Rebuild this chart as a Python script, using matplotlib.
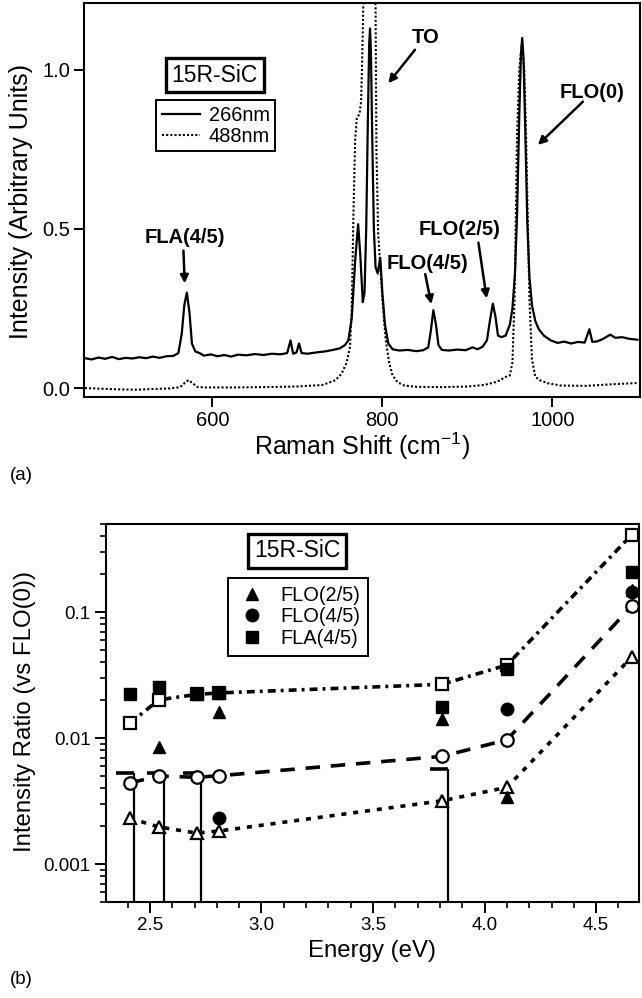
import numpy as np
import matplotlib.pyplot as plt
from matplotlib.lines import Line2D
from matplotlib.ticker import FixedLocator, NullFormatter

plt.rcParams['font.family'] = ['Liberation Sans', 'DejaVu Sans']
plt.rcParams['mathtext.default'] = 'regular'

# ---- (a) Raman spectra of 15R-SiC ----
shift_266 = [450, 458, 466, 474, 482, 490, 498, 506, 514, 522, 530, 538, 546, 554,
             560, 564, 567, 570, 573, 576, 580, 585, 590, 598, 606, 614, 622, 630,
             640, 650, 660, 670, 680, 688, 692, 695, 699, 702, 705, 712, 722, 732,
             742, 750, 756, 760, 764, 768, 771.5, 774, 777, 779, 781, 783, 784.5,
             785.5, 786.5, 788, 790, 792, 794.5, 797.5, 800, 803, 807, 812, 820, 830,
             840, 848, 854, 857, 860, 863, 866, 870, 878, 888, 898, 906, 912, 918,
             923, 927, 930, 933, 936, 940, 945, 950, 953, 956, 958.5, 961, 963,
             964.5, 966, 968, 970.5, 973, 976, 980, 984, 990, 998, 1006, 1014, 1022,
             1030, 1038, 1043.5, 1047, 1053, 1060, 1068, 1074, 1082, 1090, 1100]
int_266 = [0.094, 0.090, 0.096, 0.092, 0.098, 0.091, 0.095, 0.093, 0.097, 0.094, 0.099,
           0.095, 0.100, 0.101, 0.110, 0.170, 0.260, 0.300, 0.240, 0.140, 0.115, 0.110,
           0.102, 0.106, 0.100, 0.104, 0.099, 0.105, 0.103, 0.107, 0.104, 0.108, 0.106,
           0.110, 0.150, 0.108, 0.112, 0.140, 0.110, 0.108, 0.112, 0.115, 0.120, 0.125,
           0.135, 0.150, 0.220, 0.400, 0.515, 0.420, 0.270, 0.300, 0.500, 0.850, 1.080,
           1.130, 1.060, 0.800, 0.500, 0.380, 0.360, 0.410, 0.300, 0.200, 0.140, 0.122,
           0.118, 0.120, 0.116, 0.119, 0.128, 0.180, 0.245, 0.200, 0.135, 0.120, 0.118,
           0.121, 0.119, 0.128, 0.122, 0.130, 0.150, 0.220, 0.265, 0.225, 0.165, 0.160,
           0.165, 0.200, 0.250, 0.360, 0.550, 0.850, 1.050, 1.100, 1.040, 0.820, 0.520,
           0.350, 0.260, 0.210, 0.185, 0.165, 0.150, 0.142, 0.146, 0.140, 0.145, 0.143,
           0.185, 0.145, 0.147, 0.155, 0.168, 0.158, 0.160, 0.155, 0.152]

shift_488 = [450, 470, 490, 510, 530, 550, 562, 567, 572, 577, 582, 590, 620, 660, 700,
             730, 745, 752, 758, 762, 764, 766, 768, 770, 773, 775, 776, 778, 781, 784,
             787, 790, 792, 793, 795, 800, 804, 808, 812, 818, 826, 840, 870, 900, 920,
             935, 945, 950, 953, 955.5, 958.5, 961, 964, 967, 969, 973, 976, 980, 985,
             995, 1010, 1040, 1070, 1100]
int_488 = [0.000, -0.002, -0.004, -0.005, -0.003, -0.001, 0.003, 0.015, 0.025, 0.015,
           0.004, 0.002, 0.002, 0.003, 0.005, 0.010, 0.025, 0.045, 0.080, 0.130, 0.250,
           0.550, 0.780, 0.850, 0.860, 0.900, 1.000, 1.250, 1.450, 1.600, 1.600, 1.500,
           1.200, 0.750, 0.490, 0.280, 0.150, 0.080, 0.040, 0.018, 0.008, 0.004, 0.003,
           0.005, 0.010, 0.020, 0.035, 0.040, 0.080, 0.280, 0.800, 1.000, 1.080, 1.000,
           0.800, 0.280, 0.090, 0.035, 0.025, 0.015, 0.008, 0.007, 0.012, 0.016]

# ---- (b) intensity ratios vs excitation energy ----
energy = [2.41, 2.54, 2.71, 2.81, 3.81, 4.10, 4.66]
calc_flo25 = [0.00231, 0.00197, 0.00176, 0.00183, 0.00318, 0.00406, 0.044]
calc_flo45 = [0.0044, 0.0050, 0.00488, 0.00502, 0.00716, 0.00968, 0.1116]
calc_fla45 = [0.0131, 0.0201, 0.0222, 0.0228, 0.0267, 0.038, 0.411]

exp_flo25_e = [2.54, 2.81, 3.81, 4.10, 4.66]
exp_flo25 = [0.00855, 0.0161, 0.0142, 0.00342, 0.150]
exp_flo45_e = [2.81, 4.10, 4.66]
exp_flo45 = [0.00234, 0.0171, 0.1436]
exp_fla45_e = [2.41, 2.54, 2.71, 2.81, 3.81, 4.10, 4.66]
exp_fla45 = [0.0222, 0.0254, 0.0222, 0.0228, 0.0176, 0.0356, 0.209]

# upper limits (bars down to the axis)
ul_e = [2.43, 2.565, 2.73, 3.835]
ul_top = [0.0053, 0.0053, 0.0053, 0.0057]

fig = plt.figure(figsize=(6.42, 9.98), dpi=100)

# ---------------- panel (a) ----------------
ax1 = fig.add_axes([0.1308, 0.6022, 0.8660, 0.3948])
ax1.plot(shift_266, int_266, color='k', lw=1.6, label='266nm')
ax1.plot(shift_488, int_488, color='k', lw=1.5, ls=(0, (1, 1)), label='488nm')
ax1.set_xlim(449, 1103)
ax1.set_ylim(-0.028, 1.21)
ax1.set_xticks([600, 800, 1000])
ax1.set_yticks([0.0, 0.5, 1.0])
ax1.set_yticklabels(['0.0', '0.5', '1.0'])
ax1.tick_params(direction='out', length=7, width=1.4, labelsize=14.5, pad=3)
for s in ax1.spines.values():
    s.set_linewidth(1.5)
ax1.set_xlabel('Raman Shift (cm$^{-1}$)', fontsize=18)
ax1.set_ylabel('Intensity (Arbitrary Units)', fontsize=18)
ax1.xaxis.set_label_coords(0.5, -0.084)
ax1.xaxis.label.set_va('top')
ax1.yaxis.set_label_coords(-0.092, 0.497)

notes = [('FLA(4/5)', (568, 0.474), (566, 0.432), (567.5, 0.329)),
         ('TO', (850.4, 1.103), (838.4, 1.063), (807, 0.958)),
         ('FLO(0)', (1046.7, 0.929), (1035.9, 0.900), (983, 0.764)),
         ('FLO(2/5)', (890.6, 0.497), (913.0, 0.457), (922.7, 0.282)),
         ('FLO(4/5)', (852.8, 0.392), (850.4, 0.358), (857.6, 0.264))]
for txt, pos, tail, tip in notes:
    ax1.text(pos[0], pos[1], txt, fontsize=14.5, fontweight='bold',
             ha='center', va='center')
    ax1.annotate('', xy=tip, xytext=tail,
                 arrowprops=dict(arrowstyle='-|>', lw=1.8, color='k',
                                 mutation_scale=12, shrinkA=0, shrinkB=0))

ax1.text(0.2354, 0.8168, '15R-SiC', transform=ax1.transAxes, fontsize=16.5,
         ha='center', va='center',
         bbox=dict(boxstyle='square,pad=0.25', fc='white', ec='k', lw=2.4))
leg1 = ax1.legend(loc='upper left', bbox_to_anchor=(0.1295, 0.7538),
                  borderaxespad=0, fontsize=14.4, handlelength=1.9,
                  handletextpad=0.45, borderpad=0.28, labelspacing=0.1,
                  fancybox=False, framealpha=1, edgecolor='k')
leg1.get_frame().set_linewidth(1.4)

fig.text(10 / 642, 1 - 476 / 998, '(a)', fontsize=13.5, va='center')

# ---------------- panel (b) ----------------
ax2 = fig.add_axes([0.1651, 0.0962, 0.8302, 0.3788])
ax2.set_yscale('log')

ax2.vlines(ul_e, 0.0003, ul_top, color='k', lw=1.6, zorder=2)
ax2.hlines(ul_top, np.array(ul_e) - 0.08, ul_e, color='k', lw=2.6, zorder=2)

ax2.plot(energy, calc_fla45, color='k', lw=2.6, ls=(0, (2.2, 1.4, 0.8, 1.4)),
         marker='s', ms=8.5, mfc='white', mec='k', mew=1.6, zorder=3)
ax2.plot(energy, calc_flo45, color='k', lw=2.6, ls=(0, (4, 3)),
         marker='o', ms=9, mfc='white', mec='k', mew=1.6, zorder=3)
ax2.plot(energy, calc_flo25, color='k', lw=2.6, ls=(0, (1.4, 1.9)),
         marker='^', ms=9, mfc='white', mec='k', mew=1.6, zorder=3)

ax2.plot(exp_flo25_e, exp_flo25, ls='none', marker='^', ms=9, color='k', zorder=4)
ax2.plot(exp_flo45_e, exp_flo45, ls='none', marker='o', ms=9, color='k', zorder=5)
ax2.plot(exp_fla45_e, exp_fla45, ls='none', marker='s', ms=8.5, color='k', zorder=5)

ax2.set_xlim(2.303, 4.692)
ax2.set_ylim(0.0005, 0.5)
ax2.set_xticks([2.5, 3.0, 3.5, 4.0, 4.5])
ax2.set_xticks(np.arange(2.4, 4.7, 0.1), minor=True)
ax2.yaxis.set_major_locator(FixedLocator([0.001, 0.01, 0.1]))
ax2.set_yticklabels(['0.001', '0.01', '0.1'])
minor_y = [m * 10.0 ** d for d in (-4, -3, -2, -1) for m in range(2, 10)]
ax2.yaxis.set_minor_locator(FixedLocator(minor_y))
ax2.yaxis.set_minor_formatter(NullFormatter())
ax2.tick_params(which='major', direction='out', length=8, width=1.4,
                labelsize=13.5, pad=3)
ax2.tick_params(which='minor', direction='out', length=4.5, width=1.2)
for s in ax2.spines.values():
    s.set_linewidth(1.5)
ax2.set_xlabel('Energy (eV)', fontsize=17.3)
ax2.set_ylabel('Intensity Ratio (vs FLO(0))', fontsize=17.3)
ax2.xaxis.set_label_coords(0.5, -0.1005)
ax2.xaxis.label.set_va('top')
ax2.yaxis.set_label_coords(-0.131, 0.504)

ax2.text(0.359, 0.929, '15R-SiC', transform=ax2.transAxes, fontsize=16.5,
         ha='center', va='center',
         bbox=dict(boxstyle='square,pad=0.25', fc='white', ec='k', lw=2.4))
handles = [Line2D([], [], ls='none', marker='^', ms=9, color='k'),
           Line2D([], [], ls='none', marker='o', ms=9, color='k'),
           Line2D([], [], ls='none', marker='s', ms=8.5, color='k')]
leg2 = ax2.legend(handles, ['FLO(2/5)', 'FLO(4/5)', 'FLA(4/5)'], loc='upper left',
                  bbox_to_anchor=(0.2289, 0.857), borderaxespad=0, fontsize=14.4,
                  handlelength=1.6, handletextpad=0.6, borderpad=0.4,
                  labelspacing=0.12, fancybox=False, framealpha=1, edgecolor='k')
leg2.get_frame().set_linewidth(1.4)

fig.text(10 / 642, 1 - 980 / 998, '(b)', fontsize=13.5, va='center')

fig.savefig('out.png', dpi=100)
